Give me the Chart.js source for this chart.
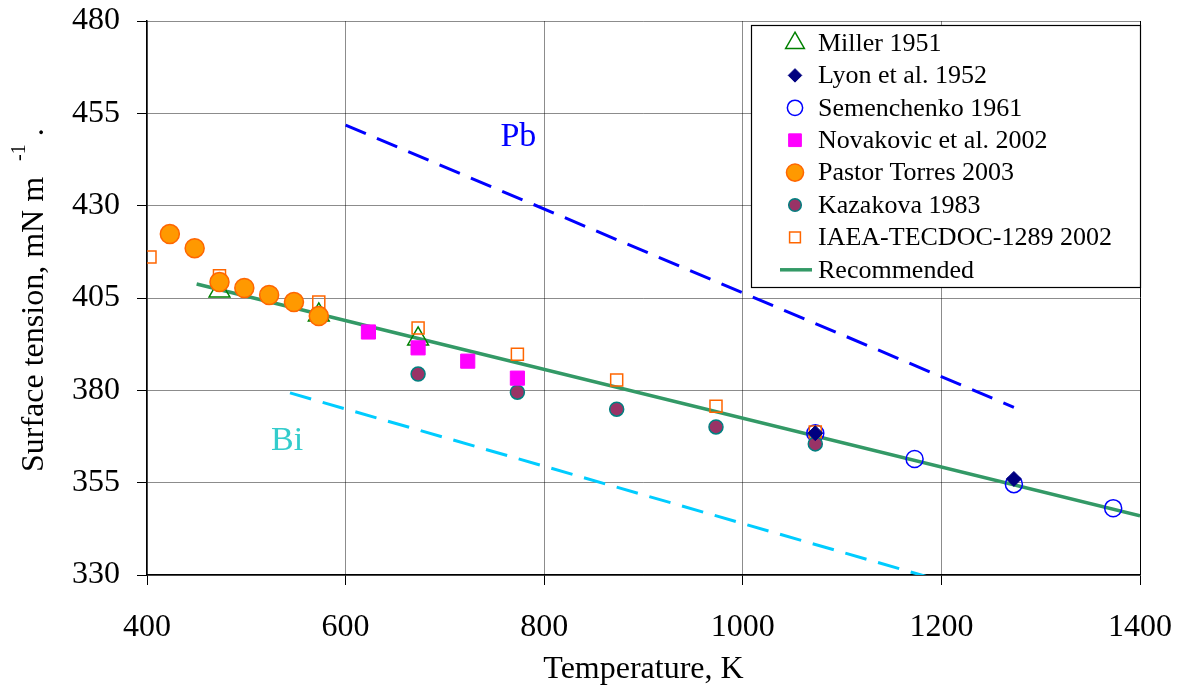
<!DOCTYPE html>
<html>
<head>
<meta charset="utf-8">
<script src="https://cdn.jsdelivr.net/npm/chart.js@4/dist/chart.umd.min.js"></script>
<style>
  html, body { margin: 0; padding: 0; background: #fff; }
  #wrap { width: 1187px; height: 700px; }
</style>
</head>
<body>
<div id="wrap"><canvas id="surfaceChart" width="1187" height="700"></canvas></div>
<script>
// Surface tension of liquid LBE vs temperature, with Pb and Bi references

const X_TICKS = [400, 600, 800, 1000, 1200, 1400];
const Y_TICKS = [330, 355, 380, 405, 430, 455, 480];

const millerT = [473, 573, 673];
const millerS = [406.9, 400.4, 393.9];

const lyonT = [1073, 1273];
const lyonS = [368.4, 356.0];

const semenchenkoT = [1073, 1173, 1273, 1373];
const semenchenkoS = [368.4, 361.4, 354.6, 348.1];

const novakovicT = [623, 673, 723, 773];
const novakovicS = [395.8, 391.5, 387.9, 383.3];

const pastorT = [423, 448, 473, 498, 523, 548, 573];
const pastorS = [422.3, 418.5, 409.3, 407.7, 405.8, 403.9, 400.1];

const kazakovaT = [673, 773, 873, 973, 1073];
const kazakovaS = [384.4, 379.5, 374.9, 370.1, 365.5];

const iaeaT = [403, 473, 573, 673, 773, 873, 973, 1073];
const iaeaS = [416.1, 411.0, 403.9, 396.9, 389.8, 382.8, 375.7, 368.7];

const recommendedT = [450, 1400];
const recommendedS = [408.8, 346.0];

const pbT = [600, 1273];
const pbS = [451.8, 375.4];

const biT = [544, 1190];
const biS = [379.3, 329.2];

const FONT = "'Liberation Serif', 'Times New Roman', serif";

const pts = (xs, ys) => xs.map((x, i) => ({ x, y: ys[i] }));

// ── Datasets ───────────────────────────────────────────────────────────────

const markerSeries = [
    { label: 'Miller 1951', data: pts(millerT, millerS), pointStyle: 'triangle', pointRadius: 12,
      pointBorderColor: '#008000', pointBackgroundColor: 'rgba(0,0,0,0)', pointBorderWidth: 1.5, order: 4 },
    { label: 'Lyon et al. 1952', data: pts(lyonT, lyonS), pointStyle: 'rectRot', pointRadius: 7.5,
      pointBorderColor: '#000080', pointBackgroundColor: '#000080', pointBorderWidth: 1, order: 1 },
    { label: 'Semenchenko 1961', data: pts(semenchenkoT, semenchenkoS), pointStyle: 'circle', pointRadius: 8.5,
      pointBorderColor: '#0000FF', pointBackgroundColor: 'rgba(0,0,0,0)', pointBorderWidth: 1.5, order: 4 },
    { label: 'Novakovic et al. 2002', data: pts(novakovicT, novakovicS), pointStyle: 'rect', pointRadius: 10,
      pointBorderColor: '#FF00FF', pointBackgroundColor: '#FF00FF', pointBorderWidth: 1, order: 3 },
    { label: 'Pastor Torres 2003', data: pts(pastorT, pastorS), pointStyle: 'circle', pointRadius: 9.5,
      pointBorderColor: '#FF6600', pointBackgroundColor: '#FF9900', pointBorderWidth: 1.5, order: 2 },
    { label: 'Kazakova 1983', data: pts(kazakovaT, kazakovaS), pointStyle: 'circle', pointRadius: 7,
      pointBorderColor: '#008080', pointBackgroundColor: '#993366', pointBorderWidth: 1.5, order: 3 },
    { label: 'IAEA-TECDOC-1289 2002', data: pts(iaeaT, iaeaS), pointStyle: 'rect', pointRadius: 8.5,
      pointBorderColor: '#FF6600', pointBackgroundColor: 'rgba(0,0,0,0)', pointBorderWidth: 1.5, order: 3 },
];

const lineSeries = [
    { label: 'Recommended', data: pts(recommendedT, recommendedS), borderColor: '#339966', borderWidth: 3.5, order: 5 },
    { label: 'Pb', data: pts(pbT, pbS), borderColor: '#0000FF', borderWidth: 3, borderDash: [22, 12], order: 6 },
    { label: 'Bi', data: pts(biT, biS), borderColor: '#00CCFF', borderWidth: 3, borderDash: [22, 12], order: 6 },
];

const datasets = [
    ...markerSeries.map(s => ({ ...s, showLine: false })),
    ...lineSeries.map(s => ({ ...s, showLine: true, pointRadius: 0, fill: false, tension: 0 })),
];

// ── Plugins: curve labels, y title, legend box ────────────────────────────

const curveLabels = {
    id: 'curveLabels',
    afterDatasetsDraw(chart) {
        const { ctx, scales: { x, y } } = chart;
        ctx.save();
        ctx.font = `34px ${FONT}`;
        ctx.textAlign = 'center';
        ctx.textBaseline = 'middle';
        ctx.fillStyle = '#0000FF';
        ctx.fillText('Pb', x.getPixelForValue(774), y.getPixelForValue(448.6));
        ctx.fillStyle = '#33CCCC';
        ctx.fillText('Bi', x.getPixelForValue(541), y.getPixelForValue(366.3));
        ctx.restore();
    },
};

const yTitle = {
    id: 'yTitle',
    afterDraw(chart) {
        const ctx = chart.ctx;
        ctx.save();
        ctx.translate(43, 472);
        ctx.rotate(-Math.PI / 2);
        ctx.fillStyle = '#000';
        ctx.textAlign = 'left';
        ctx.textBaseline = 'alphabetic';
        ctx.font = `32px ${FONT}`;
        const main = 'Surface tension, mN m';
        ctx.fillText(main, 0, 0);
        let pos = ctx.measureText(main + '  ').width;
        ctx.font = `20px ${FONT}`;
        ctx.fillText('-1', pos, -18);
        pos += ctx.measureText('-1').width;
        ctx.font = `32px ${FONT}`;
        ctx.fillText(' .', pos, 0);
        ctx.restore();
    },
};

const legendBox = {
    id: 'legendBox',
    afterDraw(chart) {
        const ctx = chart.ctx;
        const left = 751, top = 25, right = 1140, bottom = 287;
        const rowY = 43, rowGap = 32.4;
        const iconX = 795, textX = 818;

        ctx.save();
        ctx.fillStyle = '#fff';
        ctx.fillRect(left, top, right - left, bottom - top);
        ctx.strokeStyle = '#000';
        ctx.lineWidth = 1.2;
        ctx.strokeRect(left + 0.5, top + 0.5, right - left, bottom - top);

        ctx.font = `26px ${FONT}`;
        ctx.textAlign = 'left';
        ctx.textBaseline = 'middle';

        const entries = [...markerSeries, lineSeries[0]];
        entries.forEach((s, i) => {
            const cy = rowY + i * rowGap;
            if (s.pointStyle) {
                ctx.fillStyle = s.pointBackgroundColor;
                ctx.strokeStyle = s.pointBorderColor;
                ctx.lineWidth = s.pointBorderWidth;
                Chart.helpers.drawPoint(ctx, {
                    pointStyle: s.pointStyle,
                    radius: s.pointRadius * 0.9,
                    rotation: 0,
                    borderWidth: s.pointBorderWidth,
                }, iconX, cy);
            } else {
                ctx.strokeStyle = s.borderColor;
                ctx.lineWidth = s.borderWidth;
                ctx.beginPath();
                ctx.moveTo(780, cy);
                ctx.lineTo(812, cy);
                ctx.stroke();
            }
            ctx.fillStyle = '#000';
            ctx.fillText(s.label, textX, cy + 1);
        });
        ctx.restore();
    },
};

// ── Chart ─────────────────────────────────────────────────────────────────

new Chart(document.getElementById('surfaceChart'), {
    type: 'scatter',
    data: { datasets },
    options: {
        responsive: false,
        animation: false,
        events: [],
        layout: { padding: { top: 21, right: 47, left: 0, bottom: 0 } },
        plugins: {
            legend: { display: false },
            tooltip: { enabled: false },
        },
        scales: {
            x: {
                type: 'linear',
                min: X_TICKS[0],
                max: X_TICKS[X_TICKS.length - 1],
                afterBuildTicks(scale) { scale.ticks = X_TICKS.map(v => ({ value: v })); },
                afterFit(scale) {
                    scale.height = 125;
                    scale.paddingLeft = 0;
                    scale.paddingRight = 0;
                },
                ticks: {
                    color: '#000',
                    font: { family: FONT, size: 32 },
                    padding: 23,
                    maxRotation: 0,
                    callback: v => String(v),
                },
                grid: {
                    color: ctx => (ctx.tick && ctx.tick.value === 1400 ? '#000' : 'rgba(0,0,0,0.45)'),
                    lineWidth: 1,
                    tickLength: 10,
                    tickColor: '#000',
                },
                border: { color: '#000', width: 1.5 },
                title: {
                    display: true,
                    text: 'Temperature, K',
                    color: '#000',
                    font: { family: FONT, size: 32 },
                    padding: { top: 0, bottom: 11 },
                },
            },
            y: {
                type: 'linear',
                min: Y_TICKS[0],
                max: Y_TICKS[Y_TICKS.length - 1],
                afterBuildTicks(scale) { scale.ticks = Y_TICKS.map(v => ({ value: v })); },
                afterFit(scale) {
                    scale.width = 147;
                    scale.paddingTop = 0;
                    scale.paddingBottom = 0;
                },
                ticks: {
                    color: '#000',
                    font: { family: FONT, size: 32 },
                    padding: 17,
                    callback: v => String(v),
                },
                grid: {
                    color: 'rgba(0,0,0,0.45)',
                    lineWidth: 1,
                    tickLength: 10,
                    tickColor: '#000',
                },
                border: { color: '#000', width: 1.5 },
            },
        },
    },
    plugins: [curveLabels, yTitle, legendBox],
});
</script>
</body>
</html>
